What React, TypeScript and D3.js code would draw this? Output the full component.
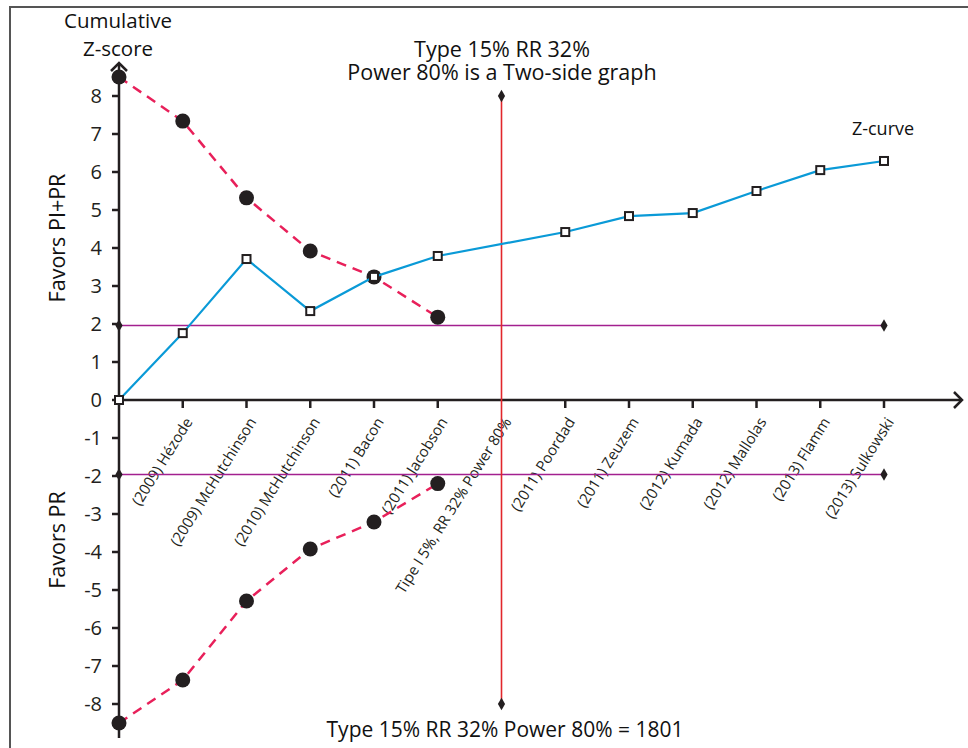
import React, { useEffect, useRef } from "react";
import * as d3 from "d3";

// categories along the x axis (index 0 is the origin, no label)
const studies = [
  "",
  "(2009) Hézode",
  "(2009) McHutchinson",
  "(2010) McHutchinson",
  "(2011) Bacon",
  "(2011) Jacobson",
  "Tipe I 5%, RR 32% Power 80%",
  "(2011) Poordad",
  "(2011) Zeuzem",
  "(2012) Kumada",
  "(2012) Mallolas",
  "(2013) Flamm",
  "(2013) Sulkowski",
];

// cumulative Z-curve (null = no point)
const zCurve: (number | null)[] = [0, 1.76, 3.71, 2.34, 3.24, 3.79, null, 4.42, 4.84, 4.92, 5.5, 6.05, 6.29];

// monitoring boundaries (upper; lower is mirrored)
const boundaryUpper = [8.5, 7.34, 5.32, 3.92, 3.24, 2.18];
const boundaryLower = [-8.5, -7.37, -5.29, -3.92, -3.21, -2.2];

const yTicks = d3.range(-8, 9);
const conventional = [1.96, -1.96];
const infoSizeIndex = 6;

const App = () => {
  const svgRef = useRef<SVGSVGElement>(null);

  useEffect(() => {
    const svg = d3.select(svgRef.current);
    svg.selectAll("*").remove();
    const font = "'Open Sans', sans-serif";

    const x = d3.scalePoint<number>().domain(d3.range(studies.length)).range([119, 884]);
    const y = d3.scaleLinear().domain([-8, 8]).range([704, 96]);
    const x0 = x(0)!;

    // frame
    svg.append("rect")
      .attr("x", 10).attr("y", 7).attr("width", 1000).attr("height", 800)
      .attr("fill", "none").attr("stroke", "#555").attr("stroke-width", 2);

    const axisCol = "#231f20";

    // y axis
    svg.append("line").attr("x1", x0).attr("x2", x0).attr("y1", 63).attr("y2", 738)
      .attr("stroke", axisCol).attr("stroke-width", 2.5);
    svg.append("path").attr("d", `M${x0 - 8},${71} L${x0},${63} L${x0 + 8},${71}`)
      .attr("fill", "none").attr("stroke", axisCol).attr("stroke-width", 2.5);

    // x axis
    svg.append("line").attr("x1", x0).attr("x2", 962).attr("y1", y(0)).attr("y2", y(0))
      .attr("stroke", axisCol).attr("stroke-width", 2.5);
    svg.append("path").attr("d", `M954,${y(0) - 8} L962,${y(0)} L954,${y(0) + 8}`)
      .attr("fill", "none").attr("stroke", axisCol).attr("stroke-width", 2.5);

    // y ticks
    const yt = svg.append("g");
    yTicks.forEach((t) => {
      yt.append("line").attr("x1", x0 - 7).attr("x2", x0).attr("y1", y(t)).attr("y2", y(t))
        .attr("stroke", axisCol).attr("stroke-width", 2.5);
      yt.append("text").attr("x", x0 - 17).attr("y", y(t)).attr("dy", "0.36em")
        .attr("text-anchor", "end").attr("font-family", font).attr("font-size", 20)
        .attr("fill", axisCol).text(t);
    });

    // x ticks + rotated labels
    const xt = svg.append("g");
    d3.range(1, studies.length).forEach((i) => {
      const px = x(i)!;
      if (i !== infoSizeIndex) {
        xt.append("line").attr("x1", px).attr("x2", px).attr("y1", y(0)).attr("y2", y(0) + 8)
          .attr("stroke", axisCol).attr("stroke-width", 2.5);
      }
      xt.append("text")
        .attr("transform", `translate(${px + 6},${y(0) + 19}) rotate(-58)`)
        .attr("dy", "0.35em").attr("text-anchor", "end")
        .attr("font-family", font).attr("font-size", 15).attr("fill", axisCol)
        .text(studies[i]);
    });

    const diamond = d3.symbol().type(d3.symbolDiamond).size(45);

    // conventional boundaries +-1.96
    conventional.forEach((c) => {
      svg.append("line").attr("x1", x0).attr("x2", x(12)!).attr("y1", y(c)).attr("y2", y(c))
        .attr("stroke", "#a3208f").attr("stroke-width", 1.6);
      [x0, x(12)!].forEach((px) => {
        svg.append("path").attr("d", diamond()!).attr("transform", `translate(${px},${y(c)})`)
          .attr("fill", axisCol);
      });
    });

    // required information size line
    const xi = x(infoSizeIndex)!;
    svg.append("line").attr("x1", xi).attr("x2", xi).attr("y1", y(8)).attr("y2", y(-8))
      .attr("stroke", "#e2262b").attr("stroke-width", 1.6);
    [8, -8].forEach((v) => {
      svg.append("path").attr("d", diamond()!).attr("transform", `translate(${xi},${y(v)})`)
        .attr("fill", axisCol);
    });

    // boundaries
    const line = d3.line<number>().x((_, i) => x(i)!).y((d) => y(d));
    [boundaryUpper, boundaryLower].forEach((b) => {
      svg.append("path").datum(b).attr("d", line).attr("fill", "none")
        .attr("stroke", "#e8205a").attr("stroke-width", 2.5).attr("stroke-dasharray", "10,7");
      svg.append("g").selectAll("circle").data(b).enter().append("circle")
        .attr("cx", (_, i) => x(i)!).attr("cy", (d) => y(d)).attr("r", 7.5).attr("fill", axisCol);
    });

    // Z-curve
    const zPts = zCurve.map((v, i) => ({ i, v })).filter((d) => d.v !== null) as { i: number; v: number }[];
    svg.append("path").datum(zPts)
      .attr("d", d3.line<{ i: number; v: number }>().x((d) => x(d.i)!).y((d) => y(d.v)))
      .attr("fill", "none").attr("stroke", "#0a9ad7").attr("stroke-width", 2.2);
    svg.append("g").selectAll("rect").data(zPts).enter().append("rect")
      .attr("x", (d) => x(d.i)! - 4).attr("y", (d) => y(d.v) - 4).attr("width", 8).attr("height", 8)
      .attr("fill", "#fff").attr("stroke", axisCol).attr("stroke-width", 2);

    // texts
    const txt = (tx: number, ty: number, s: string, size: number, anchor = "middle", rot = 0) =>
      svg.append("text")
        .attr("transform", `translate(${tx},${ty}) rotate(${rot})`)
        .attr("text-anchor", anchor).attr("font-family", font).attr("font-size", size)
        .attr("fill", "#111").text(s);

    txt(118, 28, "Cumulative", 20.5);
    txt(118, 56, "Z-score", 20.5);
    txt(502, 57, "Type 15% RR 32%", 21.5);
    txt(502, 80, "Power 80% is a Two-side graph", 21.5);
    txt(883, 135, "Z-curve", 18);
    txt(65, 238, "Favors PI+PR", 21.5, "middle", -90);
    txt(65, 540, "Favors PR", 21.5, "middle", -90);
    txt(505, 737, "Type 15% RR 32% Power 80% = 1801", 21);
  }, []);

  return (
    <svg ref={svgRef} width={968} height={748}
      style={{ position: "absolute", left: 0, top: 0, background: "#fff", display: "block" }} />
  );
};

export default App;
